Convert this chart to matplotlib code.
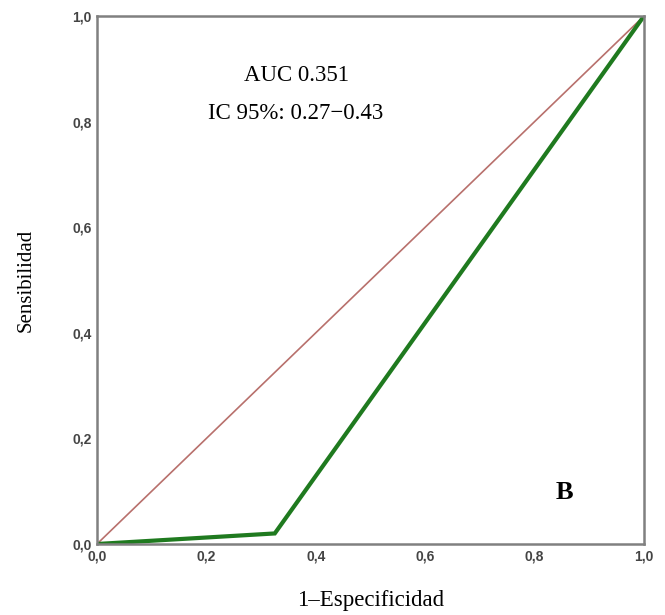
import matplotlib
matplotlib.use("Agg")
import matplotlib.pyplot as plt

fpr = [0.0, 0.325, 1.0]
tpr = [0.0, 0.02, 1.0]
ref = [0.0, 1.0]
ticks = [0.0, 0.2, 0.4, 0.6, 0.8, 1.0]
tick_labels = ["0,0", "0,2", "0,4", "0,6", "0,8", "1,0"]

fig = plt.figure(figsize=(6.65, 6.15), dpi=100)
ax = fig.add_axes([97/665, 71/615, 547/665, 528/615])
ax.plot(ref, ref, color="#b8706c", lw=1.2)
ax.plot(fpr, tpr, color="#1f7a1f", lw=3, solid_joinstyle="miter")
ax.set_xlim(0, 1)
ax.set_ylim(0, 1)
ax.set_xticks(ticks)
ax.set_xticklabels(tick_labels)
ax.set_yticks(ticks)
ax.set_yticklabels(tick_labels)
ax.tick_params(length=0, pad=4, labelsize=10, labelcolor="#444444")
for lab in ax.get_xticklabels() + ax.get_yticklabels():
    lab.set_family("Liberation Sans")
    lab.set_fontweight("bold")
for s in ax.spines.values():
    s.set_color("#808080")
    s.set_linewidth(1.8)
ax.set_xlabel("1–Especificidad", family="Liberation Serif", fontsize=16.5, labelpad=19)
ax.set_ylabel("Sensibilidad", family="Liberation Serif", fontsize=15, labelpad=26)
ax.text(0.364, 0.888, "AUC 0.351", family="Liberation Serif", fontsize=16.5,
        ha="center", va="center", transform=ax.transAxes)
ax.text(0.364, 0.816, "IC 95%: 0.27\u22120.43", family="Liberation Serif", fontsize=16.5,
        ha="center", va="center", transform=ax.transAxes)
ax.text(0.855, 0.0966, "B", family="Liberation Serif", fontsize=19, fontweight="bold",
        ha="center", va="center", transform=ax.transAxes)
fig.savefig("out.png", dpi=100)
